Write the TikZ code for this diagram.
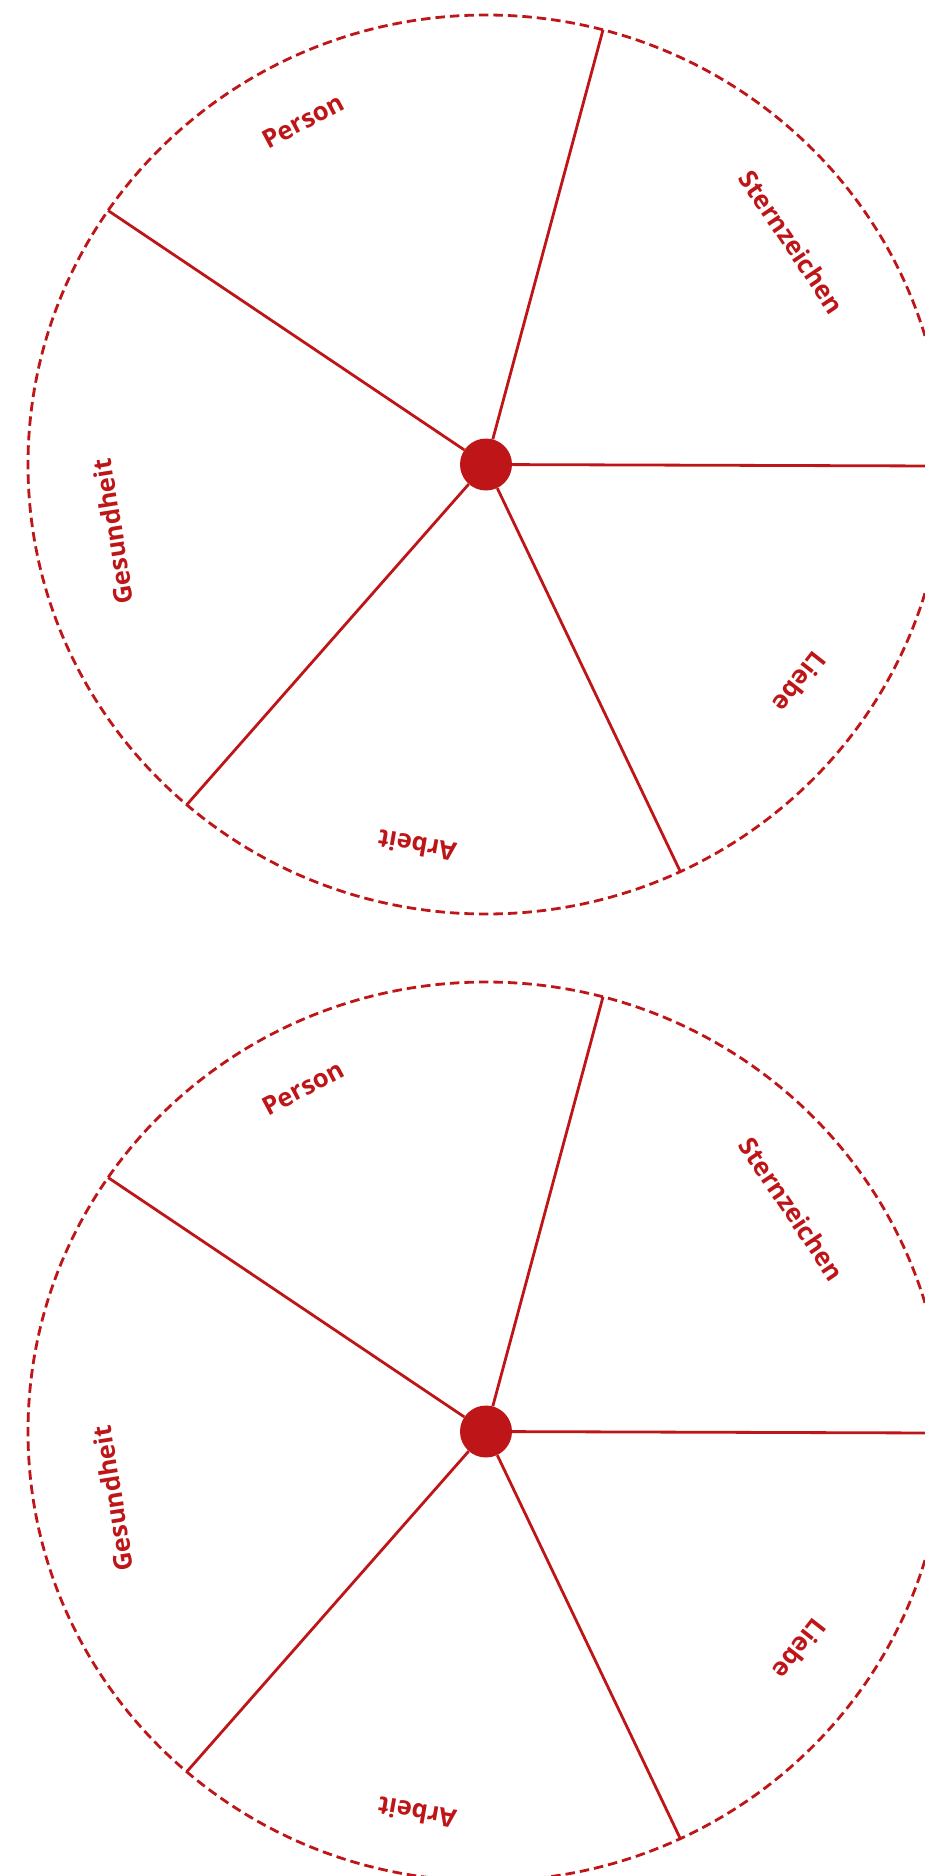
\documentclass[tikz,border=0pt]{standalone}
\usepackage{fontspec}
\setmainfont{Open Sans}
\definecolor{wheelred}{RGB}{190,22,24}
\begin{document}
\begin{tikzpicture}[x=1pt,y=1pt,
  wheel/.style={draw=wheelred, line width=2.8pt, dash pattern=on 9.5pt off 5pt},
  spoke/.style={draw=wheelred, line width=2.8pt},
  hub/.style={circle, fill=wheelred, minimum size=52pt, inner sep=0pt},
  sectortext/.style={text=wheelred, font=\bfseries\fontsize{25.5}{30}\selectfont, inner sep=0pt}]
\useasboundingbox (0,0) rectangle (925,-1876);
\clip (0,0) rectangle (925,-1876);
\foreach \i/\cy in {1/-464.5,2/-1431.5} {
  \begin{scope}[shift={(486,\cy)}]
    \draw[wheel] (0,0) ellipse [x radius=458, y radius=449.5];
    \coordinate (p\i a) at ({458*cos(75.2)},{449.5*sin(75.2)});
    \coordinate (p\i b) at ({470*cos(-0.2)},{449.5*sin(-0.2)});
    \coordinate (p\i c) at ({458*cos(-64.9)},{449.5*sin(-64.9)});
    \coordinate (p\i d) at ({458*cos(229.2)},{449.5*sin(229.2)});
    \coordinate (p\i e) at ({458*cos(145.6)},{449.5*sin(145.6)});
    \node[hub] (h\i) at (0,0) {};
    \foreach \k in {a,b,c,d,e} { \draw[spoke] (h\i) -- (p\i\k); }
    \node[sectortext, rotate=28] (person\i) at (-183,343.5) {Person};
    \node[sectortext, rotate=-56] (stern\i) at (306,222.5) {Sternzeichen};
    \node[sectortext, rotate=-128] (liebe\i) at (314,-217.5) {Liebe};
    \node[sectortext, rotate=170] (arbeit\i) at (-69,-381.5) {Arbeit};
    \node[sectortext, rotate=99] (gesund\i) at (-373,-67) {Gesundheit};
  \end{scope}
}
\end{tikzpicture}
\end{document}
